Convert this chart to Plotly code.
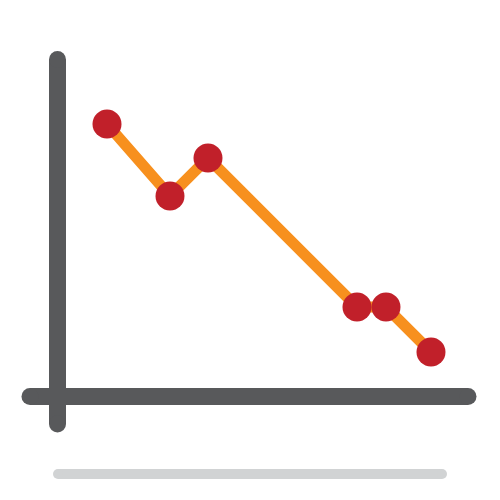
import plotly.graph_objects as go

# 折线数据（画布坐标，y向上）
line_x = [107, 170, 208, 357, 386, 431]
line_y = [376, 304, 342, 193, 193, 148]

# 坐标轴及底部阴影线
yaxis_x = [57.5, 57.5]
yaxis_y = [440.5, 76]
xaxis_x = [30, 468]
xaxis_y = [103.5, 103.5]
shadow_x = [58, 442]
shadow_y = [26, 26]

fig = go.Figure()

# 底部浅灰线
fig.add_trace(go.Scatter(
    x=shadow_x, y=shadow_y, mode='lines+markers',
    line=dict(color='#D1D3D4', width=10),
    marker=dict(color='#D1D3D4', size=10),
    hoverinfo='skip'
))

# 竖轴 + 横轴（圆头用端点marker模拟）
for ax_x, ax_y in [(yaxis_x, yaxis_y), (xaxis_x, xaxis_y)]:
    fig.add_trace(go.Scatter(
        x=ax_x, y=ax_y, mode='lines+markers',
        line=dict(color='#58595B', width=17),
        marker=dict(color='#58595B', size=17),
        hoverinfo='skip'
    ))

# 橙色折线
fig.add_trace(go.Scatter(
    x=line_x, y=line_y, mode='lines',
    line=dict(color='#F7901E', width=11),
))

# 红色数据点
fig.add_trace(go.Scatter(
    x=line_x, y=line_y, mode='markers',
    marker=dict(color='#C1202A', size=29),
))

fig.update_layout(
    width=500, height=500,
    margin=dict(l=0, r=0, t=0, b=0),
    showlegend=False,
    plot_bgcolor='white',
    paper_bgcolor='white',
)
# 页面body默认有8px边距，范围整体平移抵消
fig.update_xaxes(range=[8, 508], visible=False, fixedrange=True)
fig.update_yaxes(range=[-8, 492], visible=False, fixedrange=True)

fig.write_html("out.html")
